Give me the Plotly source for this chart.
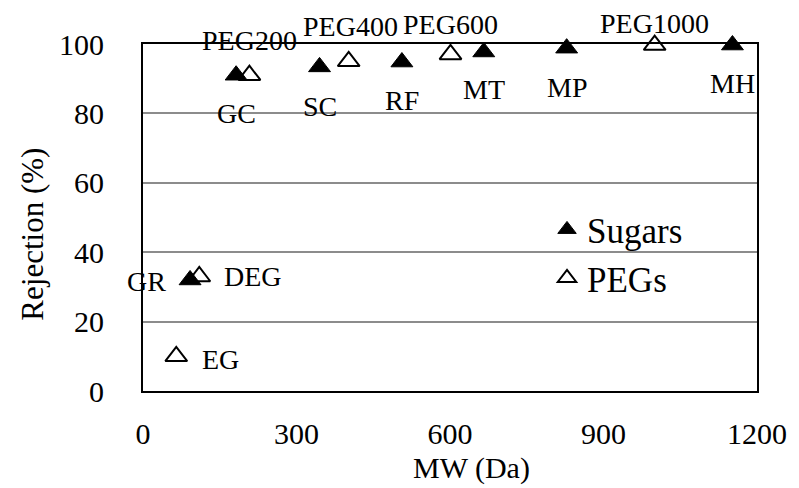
import plotly.graph_objects as go

sugar_names = ["GR", "GC", "SC", "RF", "MT", "MP", "MH"]
sugar_mw = [92, 182, 345, 506, 666, 828, 1152]
sugar_rej = [32, 91, 93.4, 94.8, 97.7, 98.8, 99.7]

peg_names = ["EG", "DEG", "PEG200", "PEG400", "PEG600", "PEG1000"]
peg_mw = [65, 110, 208, 402, 601, 1000]
peg_rej = [10, 33, 91, 95, 97, 99.7]

x_ticks = [0, 300, 600, 900, 1200]
y_ticks = [0, 20, 40, 60, 80, 100]

FONT = "'Liberation Serif', 'Times New Roman', Times, serif"

L, R, T, B = 143, 33, 44, 97
W, H = 799, 488
pw, ph = W - L - R, H - T - B

fig = go.Figure()
fig.add_trace(go.Scatter(
    x=sugar_mw, y=sugar_rej, mode="markers", name="Sugars",
    marker=dict(symbol="triangle-up", size=19, color="black", line=dict(color="black", width=1)),
    cliponaxis=False))
fig.add_trace(go.Scatter(
    x=peg_mw, y=peg_rej, mode="markers", name="PEGs",
    marker=dict(symbol="triangle-up-open", size=19, color="black", line=dict(width=2)),
    cliponaxis=False))

# label offsets (pixels)
sugar_off = {"GR": (-22, -2, "right"), "GC": (0, -38, "center"), "SC": (0, -40, "center"),
             "RF": (0, -38, "center"), "MT": (0, -38, "center"), "MP": (0, -39, "center"),
             "MH": (0, -38, "center")}
peg_off = {"EG": (24, -3, "left"), "DEG": (23, 0, "left"), "PEG200": (0, 35, "center"),
           "PEG400": (2, 35, "center"), "PEG600": (0, 30, "center"), "PEG1000": (0, 22, "center")}

for n, x, y in zip(sugar_names, sugar_mw, sugar_rej):
    dx, dy, anc = sugar_off[n]
    fig.add_annotation(x=x, y=y, text=n, showarrow=False, xshift=dx, yshift=dy,
                       xanchor=anc, yanchor="middle", font=dict(family=FONT, size=28, color="black"))
for n, x, y in zip(peg_names, peg_mw, peg_rej):
    dx, dy, anc = peg_off[n]
    fig.add_annotation(x=x, y=y, text=n, showarrow=False, xshift=dx, yshift=dy,
                       xanchor=anc, yanchor="middle", font=dict(family=FONT, size=28, color="black"))

# axis titles (placed from pixel positions)
fig.add_annotation(x=0.535, y=(H - B - 468) / ph, xref="paper", yref="paper", text="MW (Da)",
                   showarrow=False, font=dict(family=FONT, size=30, color="black"),
                   xanchor="center", yanchor="middle")
fig.add_annotation(x=(30 - L) / pw, y=(H - B - 234) / ph, xref="paper", yref="paper",
                   text="Rejection (%)", showarrow=False, textangle=-90,
                   font=dict(family=FONT, size=31, color="black"),
                   xanchor="center", yanchor="middle")

fig.update_layout(
    width=W, height=H,
    margin=dict(l=L, r=R, t=T, b=B),
    plot_bgcolor="white", paper_bgcolor="white",
    font=dict(family=FONT, size=30, color="black"),
    showlegend=True,
    legend=dict(x=0.658, y=0.55, xanchor="left", yanchor="top", bgcolor="rgba(0,0,0,0)",
                font=dict(family=FONT, size=35), itemwidth=30, tracegroupgap=0),
    xaxis=dict(range=[0, 1200], tickvals=x_ticks, showgrid=False,
               showline=True, linecolor="black", linewidth=2, mirror=True, ticks="",
               zeroline=False, ticklabelstandoff=15, tickfont=dict(family=FONT, size=30)),
    yaxis=dict(range=[0, 100], tickvals=y_ticks, showgrid=True,
               gridcolor="#8c8c8c", gridwidth=1.5, showline=True, linecolor="black",
               linewidth=2, mirror=True, ticks="", zeroline=False,
               ticklabelstandoff=31, tickfont=dict(family=FONT, size=30)),
)

fig.write_html("out.html")
